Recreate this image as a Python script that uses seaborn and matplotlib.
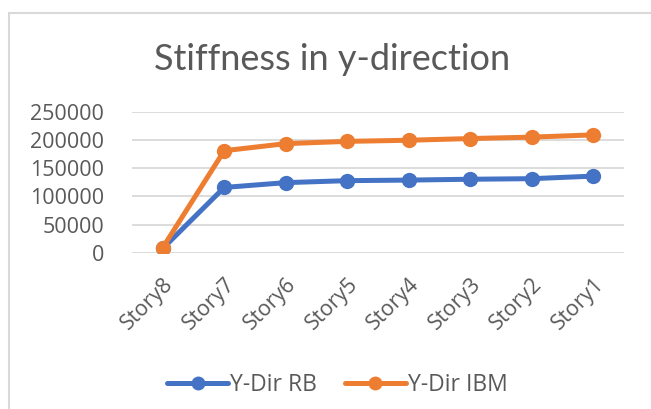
import matplotlib
matplotlib.use("Agg")
import matplotlib.pyplot as plt
import seaborn as sns
import pandas as pd
from matplotlib.patches import Rectangle

stories = ["Story8", "Story7", "Story6", "Story5", "Story4", "Story3", "Story2", "Story1"]
rb_values = [8000, 116000, 124500, 128000, 129000, 130500, 131500, 136000]
ibm_values = [9500, 181000, 193500, 197500, 199500, 202500, 205000, 209000]
series_names = ["Y-Dir RB", "Y-Dir IBM"]
y_ticks = [0, 50000, 100000, 150000, 200000, 250000]
title = "Stiffness in y-direction"

colors = {"Y-Dir RB": "#4472C4", "Y-Dir IBM": "#ED7D31"}
text_color = "#595959"

df = pd.DataFrame({
    "story": stories * 2,
    "stiffness": rb_values + ibm_values,
    "series": [series_names[0]] * len(stories) + [series_names[1]] * len(stories),
})

sns.set_theme(style="white")
plt.rcParams["font.family"] = ["Open Sans", "DejaVu Sans"]

W, H = 651, 409
fig = plt.figure(figsize=(W / 100, H / 100), dpi=100)
ax = fig.add_axes([132 / W, 1 - 253 / H, (624 - 132) / W, (253 - 111.7) / H])

sns.lineplot(
    data=df, x="story", y="stiffness", hue="series", palette=colors,
    marker="o", markersize=11, markeredgewidth=0, linewidth=3.6,
    sort=False, ax=ax, legend=False,
)

ax.set_xlim(-0.5, len(stories) - 0.5)
ax.set_ylim(0, 250000)
ax.set_yticks(y_ticks)
ax.set_yticklabels([str(v) for v in y_ticks])
ax.set_xlabel("")
ax.set_ylabel("")
ax.grid(axis="y", color="#D9D9D9", linewidth=1.3)
ax.grid(axis="x", visible=False)
ax.set_axisbelow(True)
for s in ax.spines.values():
    s.set_visible(False)
ax.tick_params(axis="both", length=0, colors=text_color, labelsize=15.5)
ax.tick_params(axis="y", pad=20)
for lab in ax.get_xticklabels():
    lab.set_rotation(45)
    lab.set_ha("right")
    lab.set_va("top")
    lab.set_rotation_mode("anchor")
    lab.set_fontsize(15.5)
ax.tick_params(axis="x", pad=15)

fig.text(332 / W, 1 - 59 / H, title, ha="center", va="center",
         fontsize=26, color=text_color, family=["Lato", "DejaVu Sans"])

# legend entries
handles = [
    plt.Line2D([], [], color=colors[n], marker="o", markersize=10,
               markeredgewidth=0, linewidth=3.6)
    for n in series_names
]
fig.legend(handles, series_names, loc="center", bbox_to_anchor=(337.5 / W, 1 - 385 / H),
           ncol=2, frameon=False, fontsize=16.5, handlelength=2.66, handletextpad=0.1,
           columnspacing=1.2, labelcolor=text_color)

# chart border
fig.patches.append(Rectangle((8.5 / W, -0.2), 1.2, 1 - 13 / H + 0.2,
                             transform=fig.transFigure, fill=False,
                             edgecolor="#D9D9D9", linewidth=1.5))

fig.savefig("out.png", dpi=100, facecolor="white")
